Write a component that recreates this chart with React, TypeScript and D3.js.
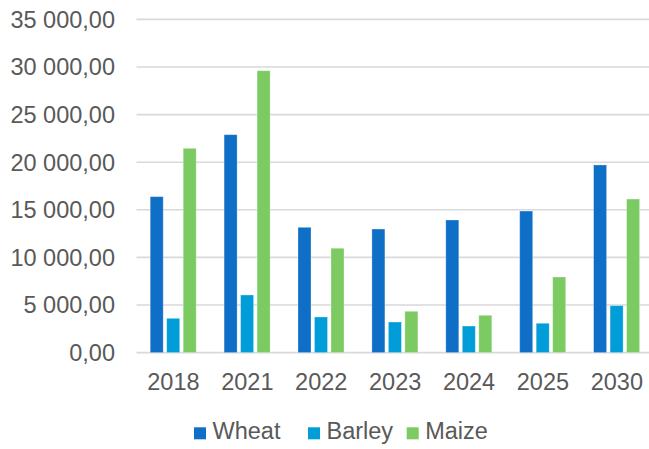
import React, { useEffect, useRef } from 'react';
import * as d3 from 'd3';

const years = ['2018', '2021', '2022', '2023', '2024', '2025', '2030'];
const wheat = [16380, 22890, 13160, 12980, 13930, 14870, 19710];
const barley = [3600, 6050, 3740, 3210, 2790, 3080, 4930];
const maize = [21460, 29610, 10960, 4340, 3920, 7940, 16130];
const seriesNames = ['Wheat', 'Barley', 'Maize'];
const yTicks = [0, 5000, 10000, 15000, 20000, 25000, 30000, 35000];

const colors = ['#0F6FC6', '#009DD9', '#7CCA62'];

const fmt = (v: number) => {
    const s = d3.format(',.2f')(v);
    return s.replace(/,/g, ' ').replace('.', ',');
};

const App = () => {
    const ref = useRef<SVGSVGElement>(null);

    useEffect(() => {
        const width = 649;
        const height = 449;
        const font = '"Liberation Sans", Arial, sans-serif';

        const svg = d3.select(ref.current);
        svg.selectAll('*').remove();

        const x = d3.scaleBand<string>()
            .domain(years)
            .range([136.5, 653.8])
            .padding(0);

        const y = d3.scaleLinear()
            .domain([0, 35000])
            .range([352.6, 19.4]);

        const inner = d3.scaleBand<string>()
            .domain(seriesNames)
            .range([0, 49.5])
            .padding(0);

        // gridlines
        svg.append('g')
            .selectAll('line')
            .data(yTicks)
            .enter().append('line')
            .attr('x1', 136.5)
            .attr('x2', width)
            .attr('y1', d => y(d))
            .attr('y2', d => y(d))
            .attr('stroke', '#d9d9d9')
            .attr('stroke-width', 1.6);

        // y labels
        svg.append('g')
            .selectAll('text')
            .data(yTicks)
            .enter().append('text')
            .attr('x', 115)
            .attr('y', d => y(d) + 8.4)
            .attr('text-anchor', 'end')
            .style('font-family', font)
            .style('font-size', '23.5px')
            .style('fill', '#595959')
            .text(d => fmt(d));

        const data = [wheat, barley, maize];
        const groupOffset = (x.bandwidth() - 49.5) / 2 + 1.5;

        seriesNames.forEach((name, si) => {
            svg.append('g')
                .selectAll('rect')
                .data(data[si])
                .enter().append('rect')
                .attr('x', (d, i) => (x(years[i]) as number) + groupOffset + (inner(name) as number))
                .attr('y', d => y(d))
                .attr('width', 13)
                .attr('height', d => y(0) - y(d))
                .attr('fill', colors[si])
                .attr('stroke', '#ffffff')
                .attr('stroke-opacity', 0.35)
                .attr('stroke-width', 0.8);
        });

        // x labels
        svg.append('g')
            .selectAll('text')
            .data(years)
            .enter().append('text')
            .attr('x', d => (x(d) as number) + x.bandwidth() / 2)
            .attr('y', 389.5)
            .attr('text-anchor', 'middle')
            .style('font-family', font)
            .style('font-size', '23.5px')
            .style('fill', '#595959')
            .text(d => d);

        // legend
        const legendX = [194, 308, 406.7];
        const legend = svg.append('g');
        seriesNames.forEach((name, i) => {
            legend.append('rect')
                .attr('x', legendX[i])
                .attr('y', 427.3)
                .attr('width', 12)
                .attr('height', 12)
                .attr('fill', colors[i]);
            legend.append('text')
                .attr('x', legendX[i] + 18.5)
                .attr('y', 439.3)
                .style('font-family', font)
                .style('font-size', '23.5px')
                .style('fill', '#595959')
                .text(name);
        });
    }, []);

    return (
        <svg
            ref={ref}
            width={649}
            height={449}
            style={{ position: 'absolute', left: 0, top: 0, background: '#fff' }}
        />
    );
};

export default App;
